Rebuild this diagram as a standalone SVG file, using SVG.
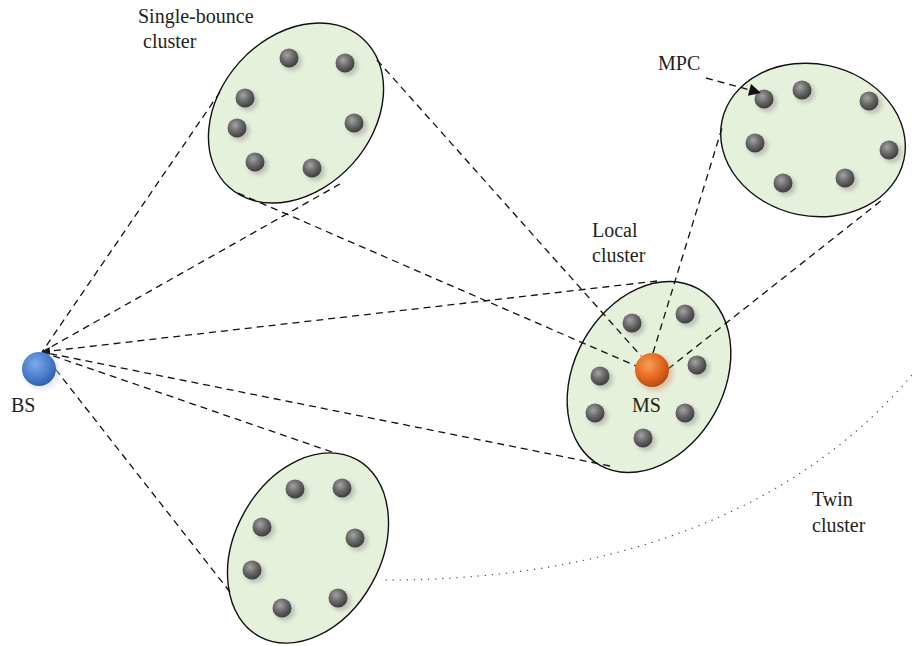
<svg xmlns="http://www.w3.org/2000/svg" width="912" height="646" viewBox="0 0 912 646">
<style>
.cl{fill:#e6f1db;stroke:#111;stroke-width:1.4}
.dash{fill:none;stroke:#111;stroke-width:1.3;stroke-dasharray:7 5}
.dot{fill:none;stroke:#4d6040;stroke-width:1.4;stroke-dasharray:0.1 7;stroke-linecap:round}
.lbl{font-family:"Liberation Serif","Times New Roman",serif;font-size:20px;fill:#231f20}
.ball{fill:url(#gGray)}
.sh{fill:#9a9a9a;opacity:0.55;filter:url(#blur)}
</style>
<defs>
<radialGradient id="gGray" cx="0.4" cy="0.35" r="0.65">
<stop offset="0" stop-color="#a4a4a4"/>
<stop offset="0.5" stop-color="#6c6c6c"/>
<stop offset="1" stop-color="#3e3e3e"/>
</radialGradient>
<radialGradient id="gBlue" cx="0.4" cy="0.35" r="0.7">
<stop offset="0" stop-color="#7ea9e8"/>
<stop offset="0.6" stop-color="#4a7ccc"/>
<stop offset="1" stop-color="#2d5aa6"/>
</radialGradient>
<radialGradient id="gOrange" cx="0.4" cy="0.35" r="0.7">
<stop offset="0" stop-color="#f7a05a"/>
<stop offset="0.6" stop-color="#e2641e"/>
<stop offset="1" stop-color="#b44510"/>
</radialGradient>
<filter id="blur" x="-50%" y="-50%" width="200%" height="200%"><feGaussianBlur stdDeviation="2"/></filter>
<marker id="arr" viewBox="0 0 10 10" refX="10" refY="5" markerWidth="8" markerHeight="8" markerUnits="userSpaceOnUse" orient="auto"><path d="M0,0 L10,5 L0,10 z" fill="#111"/></marker>
<marker id="arrBig" viewBox="0 0 10 10" refX="10" refY="5" markerWidth="13" markerHeight="12" markerUnits="userSpaceOnUse" orient="auto"><path d="M0,0 L10,5 L0,10 z" fill="#111"/></marker>
</defs>
<rect width="912" height="646" fill="#fff"/>

<g id="cluster-single">
<ellipse class="cl" cx="296" cy="113" rx="76" ry="100" transform="rotate(42 296 113)"/>
<g>
<circle class="sh" cx="292" cy="61" r="10"/><circle class="ball" cx="289" cy="58" r="9.5"/>
<circle class="sh" cx="348" cy="66" r="10"/><circle class="ball" cx="345" cy="63" r="9.5"/>
<circle class="sh" cx="248" cy="101" r="10"/><circle class="ball" cx="245" cy="98" r="9.5"/>
<circle class="sh" cx="240" cy="131" r="10"/><circle class="ball" cx="237" cy="128" r="9.5"/>
<circle class="sh" cx="357" cy="126" r="10"/><circle class="ball" cx="354" cy="123" r="9.5"/>
<circle class="sh" cx="258" cy="165" r="10"/><circle class="ball" cx="255" cy="162" r="9.5"/>
<circle class="sh" cx="315" cy="171" r="10"/><circle class="ball" cx="312" cy="168" r="9.5"/>
</g>
</g>

<g id="cluster-mpc">
<ellipse class="cl" cx="813" cy="140" rx="93" ry="76" transform="rotate(12 813 140)"/>
<circle class="sh" cx="767" cy="102" r="10"/><circle class="ball" cx="764" cy="99" r="9.5"/>
<circle class="sh" cx="805" cy="93" r="10"/><circle class="ball" cx="802" cy="90" r="9.5"/>
<circle class="sh" cx="872" cy="104" r="10"/><circle class="ball" cx="869" cy="101" r="9.5"/>
<circle class="sh" cx="758" cy="146" r="10"/><circle class="ball" cx="755" cy="143" r="9.5"/>
<circle class="sh" cx="892" cy="153" r="10"/><circle class="ball" cx="889" cy="150" r="9.5"/>
<circle class="sh" cx="786" cy="186" r="10"/><circle class="ball" cx="783" cy="183" r="9.5"/>
<circle class="sh" cx="848" cy="181" r="10"/><circle class="ball" cx="845" cy="178" r="9.5"/>
</g>

<g id="cluster-local">
<ellipse class="cl" cx="649" cy="377" rx="75" ry="101" transform="rotate(29 649 377)"/>
<circle class="sh" cx="635" cy="326" r="10"/><circle class="ball" cx="632" cy="323" r="9.5"/>
<circle class="sh" cx="688" cy="317" r="10"/><circle class="ball" cx="685" cy="314" r="9.5"/>
<circle class="sh" cx="603" cy="379" r="10"/><circle class="ball" cx="600" cy="376" r="9.5"/>
<circle class="sh" cx="700" cy="368" r="10"/><circle class="ball" cx="697" cy="365" r="9.5"/>
<circle class="sh" cx="598" cy="416" r="10"/><circle class="ball" cx="595" cy="413" r="9.5"/>
<circle class="sh" cx="688" cy="416" r="10"/><circle class="ball" cx="685" cy="413" r="9.5"/>
<circle class="sh" cx="646" cy="441" r="10"/><circle class="ball" cx="643" cy="438" r="9.5"/>
</g>

<g id="cluster-twin">
<ellipse class="cl" cx="308" cy="548" rx="73" ry="101" transform="rotate(29 308 548)"/>
<circle class="sh" cx="298" cy="492" r="10"/><circle class="ball" cx="295" cy="489" r="9.5"/>
<circle class="sh" cx="345" cy="491" r="10"/><circle class="ball" cx="342" cy="488" r="9.5"/>
<circle class="sh" cx="265" cy="530" r="10"/><circle class="ball" cx="262" cy="527" r="9.5"/>
<circle class="sh" cx="358" cy="541" r="10"/><circle class="ball" cx="355" cy="538" r="9.5"/>
<circle class="sh" cx="255" cy="573" r="10"/><circle class="ball" cx="252" cy="570" r="9.5"/>
<circle class="sh" cx="341" cy="601" r="10"/><circle class="ball" cx="338" cy="598" r="9.5"/>
<circle class="sh" cx="285" cy="611" r="10"/><circle class="ball" cx="282" cy="608" r="9.5"/>
</g>

<g id="connectors">
<line class="dash" x1="220" y1="92" x2="42" y2="352"/>
<line class="dash" x1="340" y1="184" x2="42" y2="352"/>
<line class="dash" x1="657" y1="281" x2="42" y2="352" marker-end="url(#arr)"/>
<line class="dash" x1="610" y1="466" x2="42" y2="352"/>
<line class="dash" x1="332" y1="452" x2="42" y2="352"/>
<line class="dash" x1="230" y1="592" x2="42" y2="352"/>
<line class="dash" x1="377" y1="60" x2="641" y2="356"/>
<line class="dash" x1="238" y1="193" x2="636" y2="366"/>
<line class="dash" x1="653" y1="353" x2="722" y2="128"/>
<line class="dash" x1="668" y1="369" x2="882" y2="200"/>
<line class="dash" x1="706" y1="78" x2="761" y2="93" marker-end="url(#arrBig)"/>
<path class="dot" d="M386,580 C580,580 780,530 912,375"/>
</g>

<g id="bs">
<circle cx="42" cy="372" r="18" fill="#c9d8f0" opacity="0.5" filter="url(#blur)"/>
<circle cx="39" cy="369" r="17" fill="url(#gBlue)"/>
<text class="lbl" x="11" y="412">BS</text>
</g>

<g id="ms">
<circle cx="655" cy="373" r="18" fill="#d09070" opacity="0.45" filter="url(#blur)"/>
<circle cx="652" cy="370" r="17" fill="url(#gOrange)"/>
<text class="lbl" x="632" y="412">MS</text>
</g>

<g id="labels">
<text class="lbl" x="138" y="23">Single-bounce</text>
<text class="lbl" x="143" y="48">cluster</text>
<text class="lbl" x="658" y="70">MPC</text>
<text class="lbl" x="592" y="237">Local</text>
<text class="lbl" x="592" y="262">cluster</text>
<text class="lbl" x="812" y="506">Twin</text>
<text class="lbl" x="812" y="532">cluster</text>
</g>
</svg>
